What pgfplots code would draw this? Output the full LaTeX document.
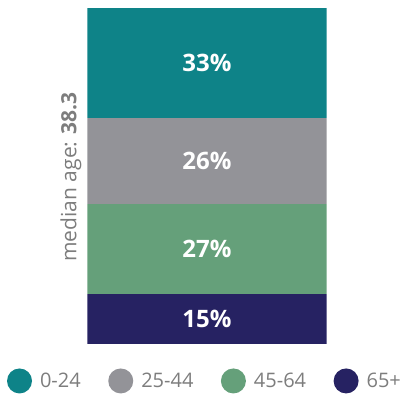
\documentclass[border=0pt]{standalone}
\usepackage{pgfplots}
\pgfplotsset{compat=1.18}
\usepackage{fontspec}
\setmainfont{Open Sans}

\definecolor{cTeal}{RGB}{14,131,136}
\definecolor{cGray}{RGB}{147,147,152}
\definecolor{cGreen}{RGB}{101,160,122}
\definecolor{cNavy}{RGB}{38,34,98}
\definecolor{cText}{RGB}{125,125,125}

\begin{document}
\begin{tikzpicture}[x=1pt,y=1pt]
\path[use as bounding box] (0,0) rectangle (404,394);
\begin{axis}[
  at={(87.3pt,49.7pt)}, anchor=south west,
  scale only axis, width=239.4pt, height=336.3pt,
  axis lines=none,
  xmin=-0.5, xmax=0.5, ymin=0, ymax=101,
  ybar stacked, bar width=239.4pt,
  point meta=explicit,
  /pgf/number format/assume math mode=true,
  nodes near coords={\pgfmathprintnumber{\pgfplotspointmeta}\%},
  every node near coord/.append style={anchor=center, text=white,
    font=\bfseries\fontsize{24}{28}\selectfont},
  legend columns=4,
  reverse legend,
  legend style={at={(0.4915,-0.109)}, anchor=center, draw=none, fill=none,
    font=\fontsize{20}{24}\selectfont, text=cText,
    /tikz/every odd column/.append style={column sep=6pt},
    /tikz/every even column/.append style={column sep=25.5pt},
    inner sep=0pt},
  legend cell align=left,
  legend image code/.code={\fill (12.5pt,0pt) circle (12.5pt);},
]
\addplot+[draw=none, fill=cNavy] coordinates {(0,15) [15]};
\addlegendentry{65+}
\addplot+[draw=none, fill=cGreen] coordinates {(0,27) [27]};
\addlegendentry{45-64}
\addplot+[draw=none, fill=cGray] coordinates {(0,26) [26]};
\addlegendentry{25-44}
\addplot+[draw=none, fill=cTeal] coordinates {(0,33) [33]};
\addlegendentry{0-24}
\end{axis}
\node[rotate=90, text=cText, font=\fontsize{21}{25}\selectfont]
  at (71,217) {median age: \textbf{38.3}};
\end{tikzpicture}
\end{document}
